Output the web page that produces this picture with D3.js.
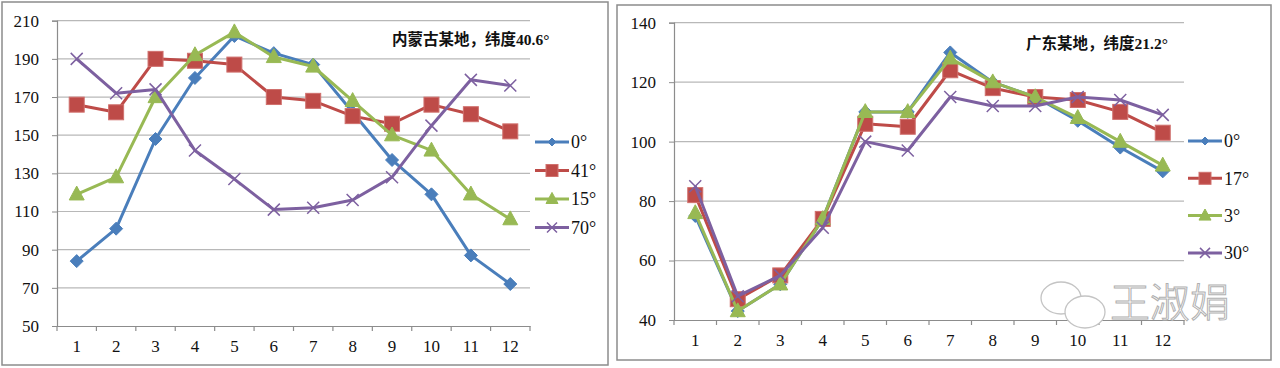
<!DOCTYPE html>
<html lang="zh-CN">
<head>
<meta charset="utf-8">
<title>Lab</title>
<script src="https://d3js.org/d3.v7.min.js"></script>
<style>
  body { margin: 0; background: #fff; }
</style>
</head>
<body>
<svg width="1280" height="368"></svg>
<script>
// months
var months = [1,2,3,4,5,6,7,8,9,10,11,12];

// 内蒙古 panel
var nmTicks = [50,70,90,110,130,150,170,190,210];
var nmNames = ["0°","41°","15°","70°"];
var nm0  = [84,101,148,180,202,193,187,162,137,119,87,72];
var nm41 = [166,162,190,189,187,170,168,160,156,166,161,152];
var nm15 = [119,128,170,192,204,191,186,168,150,142,119,106];
var nm70 = [190,172,174,142,127,111,112,116,128,155,179,176];

// 广东 panel
var gdTicks = [40,60,80,100,120,140];
var gdNames = ["0°","17°","3°","30°"];
var gd0  = [75,43,52,74,110,110,130,120,115,107,98,90];
var gd17 = [82,47,55,74,106,105,124,118,115,114,110,103];
var gd3  = [76,43,52,74,110,110,128,120,115,108,100,92];
var gd30 = [85,48,55,71,100,97,115,112,112,115,114,109];

var colors = ["#4a7ebb","#be4b48","#98b954","#7d60a0"];
var shapes = ["diamond","square","triangle","cross"];
var serif = "'Liberation Serif', 'Times New Roman', 'DejaVu Serif', serif";

var svg = d3.select("svg");

function marker(g, shape, color, x, y, s) {
  if (shape === "diamond") {
    g.append("path").attr("d", "M" + x + "," + (y - s) + "L" + (x + s) + "," + y + "L" + x + "," + (y + s) + "L" + (x - s) + "," + y + "Z")
      .attr("fill", color).attr("stroke", color).attr("stroke-width", 1);
  } else if (shape === "square") {
    g.append("rect").attr("x", x - s).attr("y", y - s).attr("width", 2 * s).attr("height", 2 * s)
      .attr("fill", color).attr("stroke", "#d0706d").attr("stroke-width", 1);
  } else if (shape === "triangle") {
    g.append("path").attr("d", "M" + x + "," + (y - s * 1.1) + "L" + (x + s) + "," + (y + s * 0.75) + "L" + (x - s) + "," + (y + s * 0.75) + "Z")
      .attr("fill", color).attr("stroke", color).attr("stroke-width", 1);
  } else {
    g.append("path").attr("d", "M" + (x - s) + "," + (y - s) + "L" + (x + s) + "," + (y + s) + "M" + (x + s) + "," + (y - s) + "L" + (x - s) + "," + (y + s))
      .attr("fill", "none").attr("stroke", color).attr("stroke-width", 1.5);
  }
}

function panel(p) {
  svg.append("rect").attr("x", p.box[0]).attr("y", p.box[1]).attr("width", p.box[2]).attr("height", p.box[3])
    .attr("fill", "#fff").attr("stroke", "#8c8c8c").attr("stroke-width", 1.5);

  var x = d3.scaleBand().domain(months).range([p.left, p.right]);
  var y = d3.scaleLinear().domain(d3.extent(p.ticks)).range([p.bottom, p.top]);

  var g = svg.append("g");

  // gridlines
  g.selectAll(".grid").data(p.ticks.slice(1)).enter().append("line")
    .attr("x1", p.left).attr("x2", p.right)
    .attr("y1", function(d) { return y(d); }).attr("y2", function(d) { return y(d); })
    .attr("stroke", "#b8b8b8").attr("stroke-width", 1.2);

  // y axis
  var ya = g.append("g").attr("transform", "translate(" + p.left + ",0)")
    .call(d3.axisLeft(y).tickValues(p.ticks).tickSize(5).tickPadding(13));
  ya.select(".domain").attr("stroke", "#8c8c8c").attr("stroke-width", 1.2);
  ya.selectAll(".tick line").attr("stroke", "#8c8c8c");
  ya.selectAll("text").attr("fill", "#111").style("font-family", serif).style("font-size", "17px");

  // x axis
  var xa = g.append("g").attr("transform", "translate(0," + p.bottom + ")")
    .call(d3.axisBottom(x).tickSize(0).tickPadding(14));
  xa.select(".domain").attr("stroke", "#8c8c8c").attr("stroke-width", 1.2);
  xa.selectAll("text").attr("fill", "#111").style("font-family", serif).style("font-size", "17px");
  g.selectAll(".xt").data(d3.range(13)).enter().append("line")
    .attr("x1", function(i) { return p.left + i * x.bandwidth(); })
    .attr("x2", function(i) { return p.left + i * x.bandwidth(); })
    .attr("y1", p.bottom).attr("y2", p.bottom + 5)
    .attr("stroke", "#8c8c8c").attr("stroke-width", 1.2);

  var line = d3.line()
    .x(function(d, i) { return x(months[i]) + x.bandwidth() / 2; })
    .y(function(d) { return y(d); });

  p.series.forEach(function(s, k) {
    g.append("path").datum(s).attr("d", line)
      .attr("fill", "none").attr("stroke", colors[k]).attr("stroke-width", 3)
      .attr("stroke-linejoin", "round");
    s.forEach(function(v, i) {
      marker(g, shapes[k], colors[k], x(months[i]) + x.bandwidth() / 2, y(v), k === 3 ? 6 : (k === 0 ? 6.5 : 7.5));
    });
  });

  // title
  svg.append("text").attr("x", p.titleX).attr("y", p.titleY)
    .attr("fill", "#111")
    .style("font-family", "'Liberation Serif', 'Noto Sans CJK SC', serif")
    .style("font-size", p.titleSize + "px").style("font-weight", "bold")
    .text(p.title);

  // legend
  p.names.forEach(function(n, k) {
    var ly = p.legY + k * p.legStep;
    var lg = svg.append("g");
    lg.append("line").attr("x1", p.legX).attr("x2", p.legX + 34).attr("y1", ly).attr("y2", ly)
      .attr("stroke", colors[k]).attr("stroke-width", 3);
    marker(lg, shapes[k], colors[k], p.legX + 17, ly, k === 0 ? 4 : (k === 3 ? 5 : 6));
    lg.append("text").attr("x", p.legX + 36).attr("y", ly).attr("dy", "0.35em")
      .attr("fill", "#111").style("font-family", serif).style("font-size", "18px").text(n);
  });
}

panel({
  box: [2, 2, 606, 363],
  left: 57, right: 530, top: 20.7, bottom: 326,
  ticks: nmTicks, names: nmNames,
  series: [nm0, nm41, nm15, nm70],
  title: "内蒙古某地，纬度40.6°", titleX: 392, titleY: 45, titleSize: 15.5,
  legX: 535, legY: 142, legStep: 28.5
});

panel({
  box: [617, 5, 654, 355],
  left: 674, right: 1184, top: 22.7, bottom: 320,
  ticks: gdTicks, names: gdNames,
  series: [gd0, gd17, gd3, gd30],
  title: "广东某地，纬度21.2°", titleX: 1026, titleY: 49, titleSize: 15.5,
  legX: 1188, legY: 141, legStep: 37.3
});

// watermark
var wm = svg.append("g").attr("fill", "#fff").attr("stroke", "#c4c4c4").attr("stroke-width", 1.3);
wm.append("ellipse").attr("cx", 1061).attr("cy", 298).attr("rx", 20).attr("ry", 16);
wm.append("ellipse").attr("cx", 1085).attr("cy", 312).attr("rx", 20).attr("ry", 16);
svg.append("text").attr("x", 1110).attr("y", 317)
  .attr("fill", "#fff").attr("stroke", "#b0b0b0").attr("stroke-width", 1)
  .style("font-family", "'Noto Sans CJK SC', sans-serif").style("font-size", "40px").style("font-weight", 300)
  .text("王淑娟");
</script>
</body>
</html>
